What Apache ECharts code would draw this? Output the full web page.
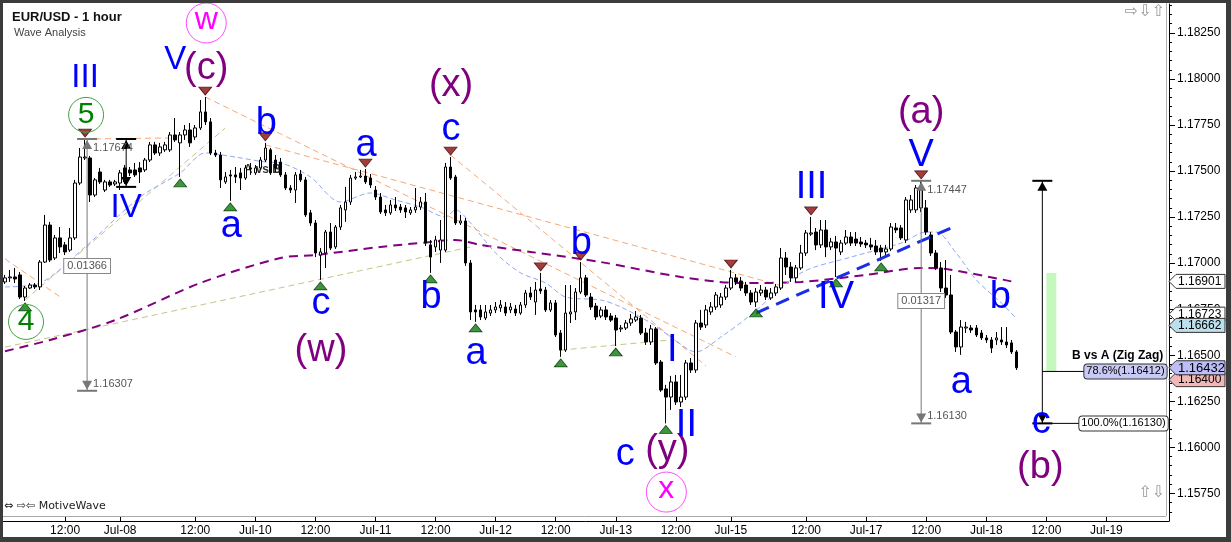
<!DOCTYPE html>
<html>
<head>
<meta charset="utf-8">
<title>EUR/USD - 1 hour</title>
<script src="https://cdn.jsdelivr.net/npm/echarts@6/dist/echarts.min.js"></script>
<style>
  html, body { margin: 0; padding: 0; background: #fff; }
  #chart { width: 1231px; height: 542px; }
</style>
</head>
<body>
<div id="chart"></div>
<script>
// hourly slots, index 0 = Jul-06 00:00 (weekends skipped)
const slotCount = 233
const tickIdx = [12, 23, 38, 50, 62, 74, 86, 98, 110, 122, 134, 145, 160, 172, 184, 196, 208, 220]
const tickText = ['12:00', 'Jul-08', '12:00', 'Jul-10', '12:00', 'Jul-11', '12:00', 'Jul-12', '12:00', 'Jul-13', '12:00', 'Jul-15', '12:00', 'Jul-17', '12:00', 'Jul-18', '12:00', 'Jul-19']
const priceTicks = [1.1575, 1.16, 1.1625, 1.165, 1.1675, 1.17, 1.1725, 1.175, 1.1775, 1.18, 1.1825]

const opens = [1.16898,1.16920,1.16925,1.16936,1.16816,1.16865,1.16881,1.16871,1.17006,1.17207,
1.17028,1.17137,1.17099,1.17071,1.17137,1.17435,1.17571,1.17571,1.17370,1.17495,
1.17397,1.17441,1.17430,1.17435,1.17517,1.17506,1.17506,1.17517,1.17506,1.17560,
1.17642,1.17598,1.17615,1.17615,1.17696,1.17653,1.17696,1.17723,1.17685,1.17734,
1.17821,1.17767,1.17598,1.17587,1.17441,1.17479,1.17479,1.17490,1.17462,1.17517,
1.17490,1.17517,1.17560,1.17615,1.17560,1.17549,1.17479,1.17408,1.17397,1.17484,
1.17452,1.17273,1.17218,1.17044,1.17055,1.17169,1.17088,1.17196,1.17289,1.17332,
1.17462,1.17468,1.17473,1.17462,1.17397,1.17359,1.17289,1.17273,1.17316,1.17305,
1.17300,1.17273,1.17289,1.17305,1.17332,1.17099,1.17088,1.17071,1.17071,1.17522,
1.17468,1.17218,1.17229,1.17001,1.16746,1.16746,1.16702,1.16729,1.16746,1.16757,
1.16762,1.16746,1.16751,1.16729,1.16773,1.16838,1.16789,1.16860,1.16854,1.16746,
1.16784,1.16621,1.16528,1.16724,1.16735,1.16843,1.16920,1.16816,1.16767,1.16713,
1.16746,1.16713,1.16702,1.16643,1.16648,1.16675,1.16691,1.16702,1.16621,1.16572,
1.16643,1.16463,1.16317,1.16273,1.16355,1.16246,1.16273,1.16458,1.16420,1.16675,
1.16664,1.16735,1.16762,1.16773,1.16816,1.16865,1.16920,1.16903,1.16881,1.16838,
1.16789,1.16838,1.16854,1.16811,1.16838,1.16865,1.17028,1.16979,1.16920,1.16974,
1.17055,1.17158,1.17169,1.17099,1.17180,1.17088,1.17115,1.17061,1.17109,1.17142,
1.17131,1.17115,1.17109,1.17099,1.17093,1.17082,1.17061,1.17077,1.17191,1.17191,
1.17126,1.17289,1.17289,1.17300,1.17300,1.17153,1.17055,1.16974,1.16865,1.16827,
1.16626,1.16545,1.16648,1.16648,1.16648,1.16621,1.16594,1.16583,1.16583,1.16583,
1.16572,1.16567,1.16518]
const closes = [1.16920,1.16925,1.16914,1.16816,1.16865,1.16881,1.16871,1.17006,1.17207,1.17017,
1.17137,1.17088,1.17061,1.17137,1.17435,1.17576,1.17576,1.17370,1.17452,1.17441,
1.17441,1.17424,1.17441,1.17490,1.17441,1.17490,1.17479,1.17495,1.17560,1.17642,
1.17598,1.17631,1.17642,1.17696,1.17669,1.17696,1.17723,1.17653,1.17734,1.17821,
1.17767,1.17598,1.17587,1.17452,1.17468,1.17473,1.17468,1.17462,1.17517,1.17511,
1.17517,1.17560,1.17625,1.17490,1.17517,1.17479,1.17408,1.17397,1.17479,1.17452,
1.17262,1.17218,1.17055,1.17061,1.17169,1.17082,1.17196,1.17300,1.17332,1.17462,
1.17468,1.17473,1.17441,1.17424,1.17359,1.17278,1.17273,1.17316,1.17300,1.17289,
1.17278,1.17289,1.17305,1.17332,1.17109,1.17033,1.17126,1.17126,1.17522,1.17462,
1.17218,1.17229,1.17001,1.16735,1.16735,1.16708,1.16735,1.16746,1.16762,1.16773,
1.16729,1.16762,1.16729,1.16773,1.16838,1.16816,1.16854,1.16849,1.16746,1.16784,
1.16610,1.16528,1.16729,1.16735,1.16843,1.16920,1.16827,1.16762,1.16708,1.16746,
1.16708,1.16691,1.16637,1.16648,1.16675,1.16697,1.16708,1.16621,1.16572,1.16643,
1.16458,1.16311,1.16273,1.16355,1.16246,1.16273,1.16458,1.16420,1.16675,1.16653,
1.16746,1.16762,1.16827,1.16816,1.16865,1.16920,1.16898,1.16865,1.16838,1.16789,
1.16843,1.16854,1.16816,1.16838,1.16871,1.17028,1.16979,1.16920,1.16974,1.17055,
1.17164,1.17164,1.17099,1.17180,1.17088,1.17115,1.17082,1.17109,1.17142,1.17109,
1.17109,1.17104,1.17099,1.17088,1.17061,1.17061,1.17077,1.17196,1.17180,1.17137,
1.17343,1.17343,1.17408,1.17397,1.17169,1.17055,1.16974,1.16865,1.16827,1.16626,
1.16545,1.16653,1.16653,1.16637,1.16610,1.16594,1.16583,1.16539,1.16594,1.16572,
1.16556,1.16518,1.16432]
const lows = [1.16887,1.16898,1.16892,1.16805,1.16795,1.16860,1.16860,1.16854,1.17001,1.17006,
1.17017,1.17055,1.17044,1.17061,1.17126,1.17424,1.17560,1.17332,1.17359,1.17430,
1.17386,1.17414,1.17419,1.17397,1.17430,1.17473,1.17468,1.17435,1.17495,1.17549,
1.17587,1.17582,1.17604,1.17604,1.17658,1.17468,1.17669,1.17631,1.17669,1.17723,
1.17750,1.17587,1.17576,1.17408,1.17430,1.17338,1.17435,1.17397,1.17452,1.17479,
1.17479,1.17506,1.17549,1.17479,1.17495,1.17468,1.17397,1.17381,1.17327,1.17441,
1.17251,1.17202,1.17033,1.16909,1.16974,1.17071,1.17077,1.17180,1.17224,1.17316,
1.17452,1.17462,1.17430,1.17408,1.17343,1.17267,1.17256,1.17262,1.17283,1.17273,
1.17245,1.17262,1.17273,1.17289,1.17093,1.16947,1.17061,1.17001,1.17061,1.17452,
1.17207,1.17207,1.16985,1.16691,1.16681,1.16691,1.16691,1.16713,1.16729,1.16735,
1.16713,1.16729,1.16713,1.16719,1.16757,1.16800,1.16719,1.16833,1.16735,1.16735,
1.16599,1.16491,1.16518,1.16675,1.16691,1.16833,1.16816,1.16746,1.16691,1.16702,
1.16691,1.16681,1.16550,1.16626,1.16637,1.16659,1.16681,1.16610,1.16556,1.16556,
1.16447,1.16301,1.16130,1.16203,1.16230,1.16219,1.16257,1.16404,1.16404,1.16637,
1.16648,1.16719,1.16746,1.16757,1.16800,1.16854,1.16881,1.16849,1.16822,1.16773,
1.16762,1.16822,1.16800,1.16800,1.16822,1.16854,1.16936,1.16898,1.16898,1.16963,
1.17039,1.17148,1.17071,1.17082,1.17033,1.17071,1.16925,1.17044,1.17099,1.17093,
1.17093,1.17088,1.17082,1.17071,1.17044,1.17012,1.17044,1.17066,1.17164,1.17126,
1.17109,1.17273,1.17273,1.17278,1.17153,1.17039,1.16963,1.16843,1.16811,1.16615,
1.16518,1.16502,1.16621,1.16621,1.16599,1.16583,1.16567,1.16512,1.16556,1.16556,
1.16539,1.16507,1.16420]
const highs = [1.16936,1.16963,1.16974,1.16952,1.16876,1.16892,1.16892,1.17017,1.17262,1.17224,
1.17153,1.17196,1.17115,1.17191,1.17452,1.17625,1.17674,1.17582,1.17462,1.17517,
1.17452,1.17452,1.17452,1.17506,1.17533,1.17522,1.17544,1.17549,1.17571,1.17658,
1.17658,1.17653,1.17658,1.17712,1.17788,1.17712,1.17750,1.17761,1.17750,1.17886,
1.17902,1.17788,1.17615,1.17604,1.17495,1.17506,1.17522,1.17517,1.17533,1.17544,
1.17533,1.17576,1.17653,1.17625,1.17587,1.17571,1.17495,1.17424,1.17495,1.17506,
1.17468,1.17289,1.17234,1.17082,1.17180,1.17218,1.17207,1.17316,1.17414,1.17479,
1.17495,1.17506,1.17511,1.17484,1.17419,1.17381,1.17316,1.17343,1.17359,1.17321,
1.17316,1.17305,1.17408,1.17359,1.17381,1.17126,1.17148,1.17234,1.17544,1.17576,
1.17479,1.17262,1.17245,1.17017,1.16773,1.16773,1.16773,1.16773,1.16789,1.16800,
1.16789,1.16784,1.16773,1.16789,1.16854,1.16871,1.16898,1.16947,1.16871,1.16800,
1.16800,1.16637,1.16881,1.16881,1.16865,1.17006,1.16936,1.16838,1.16784,1.16762,
1.16767,1.16729,1.16719,1.16664,1.16691,1.16724,1.16740,1.16719,1.16648,1.16664,
1.16653,1.16474,1.16339,1.16388,1.16393,1.16393,1.16474,1.16485,1.16691,1.16746,
1.16773,1.16789,1.16843,1.16838,1.16881,1.16963,1.16941,1.16925,1.16898,1.16854,
1.16865,1.16881,1.16871,1.16865,1.16887,1.17082,1.17061,1.17006,1.16990,1.17099,
1.17180,1.17251,1.17191,1.17234,1.17234,1.17137,1.17148,1.17126,1.17180,1.17169,
1.17169,1.17142,1.17126,1.17137,1.17126,1.17099,1.17099,1.17218,1.17218,1.17207,
1.17359,1.17370,1.17424,1.17447,1.17343,1.17169,1.17071,1.17006,1.17017,1.16936,
1.16637,1.16691,1.16681,1.16664,1.16664,1.16637,1.16610,1.16599,1.16626,1.16653,
1.16653,1.16583,1.16528]

// swing markers (slot indices)
const pivotHighIdx = [16, 40, 52, 72, 89, 107, 115, 145, 161, 183]
const pivotLowIdx = [4, 35, 45, 63, 85, 94, 111, 122, 132, 150, 166, 175]

// moving averages read at sample slots
const maLongIdx = [0, 9, 22, 39, 55, 62, 75, 85, 90, 95, 105, 119, 135, 147, 159, 172, 183, 188, 201]
const maLongVal = [1.16522, 1.16583, 1.16691, 1.16892, 1.17028, 1.17044, 1.17088, 1.17115, 1.17126, 1.17099, 1.17061, 1.17006, 1.16925, 1.16892, 1.16898, 1.16936, 1.16974, 1.16968, 1.16901]
const maShortIdx = [0, 7, 16, 27, 35, 40, 46, 52, 55, 61, 67, 73, 78, 83, 88, 90, 93, 98, 103, 108, 112, 119, 123, 129, 133, 138, 143, 149, 159, 169, 179, 184, 186, 190, 194, 199, 202]
const maShortVal = [1.16871, 1.16892, 1.17088, 1.17359, 1.17490, 1.17598, 1.17576, 1.17549, 1.17544, 1.17468, 1.17332, 1.17381, 1.17343, 1.17305, 1.17251, 1.17289, 1.17218, 1.17055, 1.16947, 1.16892, 1.16816, 1.16800, 1.16762, 1.16675, 1.16599, 1.16518, 1.16599, 1.16720, 1.16947, 1.17033, 1.17109, 1.17169, 1.17169, 1.17055, 1.16909, 1.16784, 1.16700]

// trend lines: [slotA, priceA, slotB, priceB]
const orangeLines = [
  [40, 1.17902, 146, 1.16491],
  [52, 1.17642, 156, 1.16871],
  [89, 1.17587, 140, 1.16442],
  [0, 1.17023, 11, 1.16817],
  [16, 1.17674, 34, 1.17680]
]
const oliveLines = [
  [4, 1.16800, 44, 1.17734],
  [0, 1.16544, 93, 1.17088],
  [111, 1.16528, 133, 1.16583]
]
const blueTrend = [150, 1.16729, 189, 1.17191]

// wave labels
const waveText = ['III', '5', 'V', '(c)', 'w', 'IV', 'a', 'b', 'c', '(w)', 'a', '(x)', 'c', 'b', 'a', 'b', 'c', '(y)', 'x', 'I', 'II', 'III', 'IV', '(a)', 'V', 'a', 'b', 'c', '(b)', '4']
const waveSlot = [16.0, 16.2, 34.0, 40.2, 40.2, 24.2, 45.2, 52.2, 63.1, 63.1, 72.1, 89.1, 89.1, 85.1, 94.1, 115.1, 123.9, 132.3, 132.1, 133.3, 136.1, 161.1, 166.0, 183.0, 183.0, 191.0, 198.8, 207.0, 206.8, 4.2]
const wavePrice = [1.18005, 1.17805, 1.18103, 1.18038, 1.18304, 1.17300, 1.17180, 1.17756, 1.16767, 1.16507, 1.17625, 1.17946, 1.17707, 1.16811, 1.16491, 1.17104, 1.15947, 1.15969, 1.15757, 1.16528, 1.16121, 1.17408, 1.16811, 1.17799, 1.17587, 1.16333, 1.16811, 1.16121, 1.15893, 1.16681]
const waveKind = ['romanS', 'circG', 'romanS', 'purple', 'circM', 'romanS', 'lower', 'lower', 'lower', 'purple', 'lower', 'purple', 'lower', 'lower', 'lower', 'lower', 'lower', 'purple', 'circM', 'roman', 'roman', 'roman', 'roman', 'purple', 'roman', 'lower', 'lower', 'lower', 'purple', 'circG']

// measurements
const measure1 = { slot: 16.4, from: 1.17674, to: 1.16307, diff: '0.01366', boxPrice: 1.16985 }
const measure2 = { slot: 183, from: 1.17447, to: 1.16130, diff: '0.01317', boxPrice: 1.16795 }
const bracketIV = { slot: 24.2, from: 1.17674, to: 1.17414 }
const fibTool = { slot: 207.2, from: 1.17447, to: 1.16130, level: 1.16412, greenTop: 1.16947 }

// right axis value tags
const tagValues = [1.16901, 1.16723, 1.16662, 1.16400, 1.16432]

const FONT = '"Liberation Sans", Arial, sans-serif'
const categories = Array.from({ length: slotCount }, (_, k) => k)
const tickMap = {}
tickIdx.forEach((k, j) => { tickMap[k] = tickText[j] })

const candleData = opens.map((o, k) => [o, closes[k], lows[k], highs[k]])

const sparse = (idx, vals) => {
  const arr = new Array(slotCount).fill(null)
  idx.forEach((k, j) => { arr[k] = vals[j] })
  return arr
}

const minorTicks = []
for (let v = 1.1565; v < 1.1841; v += 0.0005) minorTicks.push(Math.round(v * 10000) / 10000)

const lineSeries = (data, color, width, type, z, smooth) => ({
  type: 'line',
  data,
  connectNulls: true,
  showSymbol: false,
  smooth: smooth || false,
  silent: true,
  z,
  lineStyle: { color, width, type }
})

const series = [
  lineSeries(sparse(maLongIdx, maLongVal), '#800080', 2, [9, 6], 3, 0.3),
  lineSeries(sparse(maShortIdx, maShortVal), '#8fa8f4', 1, [5, 3], 3, 0.3)
]
orangeLines.forEach(l => series.push(lineSeries(sparse([l[0], l[2]], [l[1], l[3]]), '#f6a878', 1, [6, 4], 2)))
oliveLines.forEach(l => series.push(lineSeries(sparse([l[0], l[2]], [l[1], l[3]]), '#c8c488', 1, [6, 4], 2)))
series.push({
  type: 'candlestick',
  data: candleData,
  barWidth: 3,
  z: 4,
  silent: true,
  itemStyle: { color: '#ffffff', color0: '#000000', borderColor: '#000000', borderColor0: '#000000', borderWidth: 1 }
})
series.push(lineSeries(sparse([blueTrend[0], blueTrend[2]], [blueTrend[1], blueTrend[3]]), '#1a2ee6', 3, [14, 8], 6))
series.push({
  type: 'scatter',
  data: pivotHighIdx.map(k => [k, highs[k]]),
  symbol: 'triangle',
  symbolRotate: 180,
  symbolSize: [13, 8],
  symbolOffset: [0, -6],
  z: 7,
  silent: true,
  itemStyle: { color: '#8b0c0c', borderColor: '#3a0000', borderWidth: 0.8 }
})
series.push({
  type: 'scatter',
  data: pivotLowIdx.map(k => [k, lows[k]]),
  symbol: 'triangle',
  symbolSize: [13, 8],
  symbolOffset: [0, 6],
  z: 7,
  silent: true,
  itemStyle: { color: '#0d7a0d', borderColor: '#002a00', borderWidth: 0.8 }
})

const option = {
  animation: false,
  backgroundColor: '#ffffff',
  grid: { left: 2.5, right: 62, top: 4, bottom: 21, containLabel: false },
  xAxis: {
    type: 'category',
    data: categories,
    boundaryGap: true,
    axisLine: { show: true, lineStyle: { color: '#000', width: 1 } },
    axisTick: { show: true, inside: true, length: 5, alignWithLabel: true, interval: (k) => k in tickMap, lineStyle: { color: '#000' } },
    axisLabel: { interval: (k) => k in tickMap, formatter: (v, k) => tickMap[k] || '', color: '#000', fontSize: 12, fontFamily: FONT, margin: 4 },
    splitLine: { show: false }
  },
  yAxis: [{
    type: 'value',
    position: 'right',
    min: 1.156,
    max: 1.18407,
    splitLine: { show: false },
    axisLine: { show: true, lineStyle: { color: '#000' } },
    axisTick: { show: true, length: 6, customValues: priceTicks, lineStyle: { color: '#000' } },
    axisLabel: { customValues: priceTicks, formatter: v => v.toFixed(5), color: '#000', fontSize: 12, fontFamily: FONT, margin: 8 }
  }, {
    type: 'value',
    position: 'right',
    min: 1.156,
    max: 1.18407,
    splitLine: { show: false },
    axisLine: { show: false },
    axisTick: { show: true, length: 3, customValues: minorTicks, lineStyle: { color: '#000' } },
    axisLabel: { show: false }
  }],
  series
}

const chart = echarts.init(document.getElementById('chart'), null, { renderer: 'canvas' })
chart.setOption(option)

// pixel of a (possibly fractional) slot / price pair through the chart's own axes
const pt = (slot, price) => {
  const k = Math.floor(slot), f = slot - k
  const a = chart.convertToPixel({ gridIndex: 0 }, [k, price])
  if (!f) return a
  const b = chart.convertToPixel({ gridIndex: 0 }, [k + 1, price])
  return [a[0] + (b[0] - a[0]) * f, a[1]]
}

const g = []
const txt = (text, x, y, font, fill, align, vAlign, extra, z) => g.push({
  type: 'text', x, y, z: z == null ? 60 : z, silent: true,
  style: Object.assign({ text, font, fill, align: align || 'left', textAlign: align || 'left', verticalAlign: vAlign || 'middle', textVerticalAlign: vAlign || 'middle' }, extra || {})
})
const seg = (x1, y1, x2, y2, stroke, lineWidth, z) => g.push({ type: 'line', z: z || 55, silent: true, shape: { x1, y1, x2, y2 }, style: { stroke, lineWidth } })
const tri = (points, fill, z) => g.push({ type: 'polygon', z: z || 55, silent: true, shape: { points }, style: { fill } })

// wave labels
const kindStyle = {
  roman: { color: '#0000ff', size: 38 },
  romanS: { color: '#0000ff', size: 33 },
  lower: { color: '#0000ff', size: 38 },
  purple: { color: '#800080', size: 38 },
  circG: { color: '#008000', size: 30, ring: '#3fa33f', r: 17.5 },
  circM: { color: '#ff00ff', size: 32, ring: '#ff4cff', r: 20 }
}
waveText.forEach((t, j) => {
  const s = kindStyle[waveKind[j]]
  const [x, y] = pt(waveSlot[j], wavePrice[j])
  if (s.r) g.push({ type: 'circle', z: 60, silent: true, shape: { cx: x, cy: y, r: s.r }, style: { fill: 'rgba(255,255,255,0)', stroke: s.ring, lineWidth: 1 } })
  const lowerCase = /^[a-z()]+$/.test(t.replace(/[()]/g, '')) && !/b/.test(t)
  txt(t, x, y - (lowerCase ? 3 : 0), `${s.size}px ${FONT}`, s.color, 'center', 'middle')
})

// measurement lines with arrows
const drawMeasure = (m, color, labels) => {
  const [x, y1] = pt(m.slot, m.from)
  const y2 = pt(m.slot, m.to)[1]
  seg(x, y1, x, y2, color, 1)
  seg(x - 10, y1, x + 10, y1, color, 2)
  seg(x - 10, y2, x + 10, y2, color, 2)
  tri([[x, y1 + 1], [x - 5, y1 + 10], [x + 5, y1 + 10]], color)
  tri([[x, y2 - 1], [x - 5, y2 - 10], [x + 5, y2 - 10]], color)
  if (labels) {
    txt(m.from.toFixed(5), x + 6, y1 + 9, `11px ${FONT}`, '#555', 'left', 'middle')
    txt(m.to.toFixed(5), x + 6, y2 - 7, `11px ${FONT}`, '#555', 'left', 'middle')
    const yb = pt(m.slot, m.boxPrice)[1]
    txt(m.diff, x, yb, `11px ${FONT}`, '#555', 'center', 'middle', { backgroundColor: '#fff', borderColor: '#888', borderWidth: 1, padding: [2, 3, 1, 3] })
  }
}
drawMeasure(measure1, '#777777', true)
drawMeasure(measure2, '#777777', true)
drawMeasure(bracketIV, '#000000', false)
drawMeasure(fibTool, '#000000', false)

// fib tool extras
{
  const [x, yl] = pt(fibTool.slot, fibTool.level)
  const y0 = pt(fibTool.slot, fibTool.to)[1]
  const yg = pt(fibTool.slot, fibTool.greenTop)[1]
  g.push({ type: 'rect', z: 50, silent: true, shape: { x: x + 4, y: yg, width: 10, height: yl - yg }, style: { fill: '#c6f7be' } })
  seg(x, yl, x + 42, yl, '#000', 1)
  seg(x, y0, x + 37, y0, '#000', 1)
  txt('78.6%(1.16412)', x + 42, yl, `11px ${FONT}`, '#000', 'left', 'middle', { backgroundColor: '#c9c9f6', borderColor: '#333', borderWidth: 1, borderRadius: 3, padding: [2, 2, 1, 2] })
  txt('100.0%(1.16130)', x + 37, y0, `11px ${FONT}`, '#000', 'left', 'middle', { backgroundColor: '#fff', borderColor: '#333', borderWidth: 1, borderRadius: 3, padding: [2, 2, 1, 2] })
  txt('B vs A (Zig Zag)', x + 121, yl - 16, `bold 12px ${FONT}`, '#000', 'right', 'middle')
}

// right axis value tags
const tagFill = ['#ffffff', '#ffffff', '#bcdfee', '#f2b8b8', '#bdbdf7']
const tagShift = [0, 0, 0, 6, 0]
tagValues.forEach((v, j) => {
  const y = pt(0, v)[1] + tagShift[j]
  const x0 = 1169
  g.push({ type: 'polygon', z: 70 + j, silent: true, shape: { points: [[x0, y], [x0 + 7, y - 7], [x0 + 56, y - 7], [x0 + 56, y + 7], [x0 + 7, y + 7]] }, style: { fill: tagFill[j], stroke: '#333', lineWidth: 1 } })
  txt(v.toFixed(5), x0 + 9, y + 0.5, `${j === 4 ? 13 : 12}px ${FONT}`, '#000', 'left', 'middle', null, 71 + j)
})

// titles and chrome
txt('EUR/USD - 1 hour', 12, 17, `bold 13px ${FONT}`, '#111', 'left', 'middle')
txt('Wave Analysis', 14, 33, `11px ${FONT}`, '#444', 'left', 'middle')
{
  const [xa, ya] = pt(51.4, 1.17506)
  txt('A vs B', xa, ya, `bold 12px ${FONT}`, '#333', 'center', 'middle', null, 1)
}
txt('\u21D4 \u21E8\u21E6 MotiveWave', 4, 506, `11px "DejaVu Sans", ${FONT}`, '#222', 'left', 'middle')
txt('\u21E8\u21E9\u21E7', 1165, 12, `16px "DejaVu Sans", sans-serif`, '#999', 'right', 'middle')
txt('\u21E7\u21E9', 1165, 493, `16px "DejaVu Sans", sans-serif`, '#999', 'right', 'middle')
// plot frame (light grey) and window border
seg(3, 516.5, 1166, 516.5, '#a8a8a8', 1, 40)
seg(1166.5, 3, 1166.5, 516, '#b0b0b0', 1, 40)
g.push({ type: 'rect', z: 90, silent: true, shape: { x: 0, y: 0, width: 1231, height: 3 }, style: { fill: '#3c3c3c' } })
g.push({ type: 'rect', z: 90, silent: true, shape: { x: 0, y: 0, width: 3, height: 542 }, style: { fill: '#3c3c3c' } })
g.push({ type: 'rect', z: 90, silent: true, shape: { x: 1226, y: 0, width: 5, height: 542 }, style: { fill: '#3c3c3c' } })
g.push({ type: 'rect', z: 90, silent: true, shape: { x: 0, y: 537, width: 1231, height: 5 }, style: { fill: '#3c3c3c' } })

chart.setOption({ graphic: { elements: g } })
</script>
</body>
</html>
